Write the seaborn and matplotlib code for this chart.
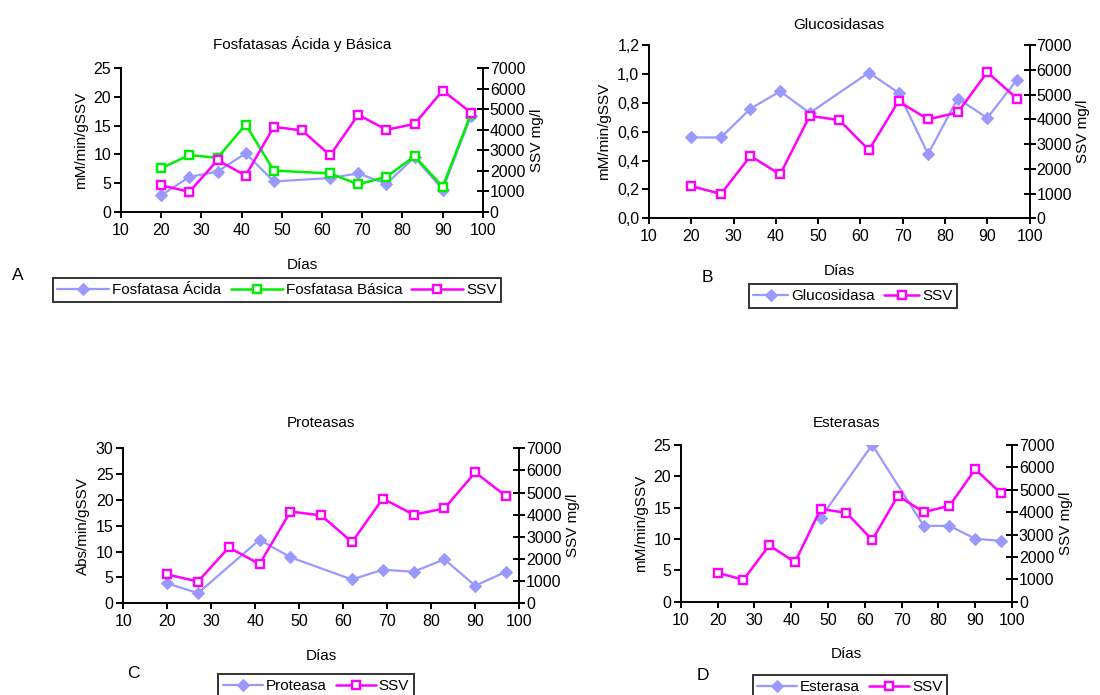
import matplotlib
matplotlib.use("Agg")
import matplotlib.pyplot as plt
import seaborn as sns
import numpy as np
from matplotlib.ticker import FuncFormatter

sns.set_style("white")
plt.rcParams['font.family'] = ['Liberation Sans', 'DejaVu Sans']
plt.rcParams['text.color'] = 'black'
plt.rcParams['axes.labelcolor'] = 'black'
plt.rcParams['xtick.color'] = 'black'
plt.rcParams['ytick.color'] = 'black'

# ---- data ----
dias = [20, 27, 34, 41, 48, 55, 62, 69, 76, 83, 90, 97]
ssv = [1300, 980, 2520, 1770, 4140, 3970, 2760, 4730, 4000, 4280, 5910, 4840]

dias_fos = [20, 27, 34, 41, 48, 62, 69, 76, 83, 90, 97]
fos_acida = [2.9, 6.1, 7.0, 10.2, 5.3, 5.9, 6.7, 4.9, 9.5, 3.9, 16.6]
fos_basica = [7.6, 9.9, 9.4, 15.2, 7.2, 6.7, 4.8, 6.1, 9.7, 4.4, 17.0]

dias_glu = [20, 27, 34, 41, 48, 62, 69, 76, 83, 90, 97]
glucosidasa = [0.56, 0.56, 0.76, 0.88, 0.73, 1.01, 0.87, 0.445, 0.83, 0.695, 0.96]

dias_pro = [20, 27, 41, 48, 62, 69, 76, 83, 90, 97]
proteasa = [3.85, 1.95, 12.3, 8.9, 4.6, 6.5, 6.1, 8.5, 3.4, 6.1]

dias_est = [48, 62, 76, 83, 90, 97]
esterasa = [13.4, 25.0, 12.1, 12.1, 10.05, 9.7]

LAV = '#9999FF'
GRN = '#00EE00'
MAG = '#FF00FF'
FS = 11.5
LFS = 11

fig = plt.figure(figsize=(11, 6.95), dpi=100)


def style_axes(ax, ax2, ylim, yticks, fmt=None):
    ax.set_xlim(10, 100)
    ax.set_xticks(range(10, 101, 10))
    ax.set_ylim(*ylim)
    ax.set_yticks(yticks)
    if fmt:
        ax.yaxis.set_major_formatter(FuncFormatter(fmt))
    ax2.set_ylim(0, 7000)
    ax2.set_yticks(range(0, 7001, 1000))
    for a in (ax, ax2):
        for s in a.spines.values():
            s.set_color('black')
            s.set_linewidth(1.4)
        a.spines['top'].set_visible(False)
    ax.spines['right'].set_visible(False)
    ax2.spines['left'].set_visible(False)
    ax2.spines['bottom'].set_visible(False)
    ax.tick_params(axis='y', direction='out', length=5, width=1.4, labelsize=FS, left=True, pad=2)
    ax.tick_params(axis='x', direction='out', length=4, width=1.4, labelsize=FS, bottom=True, pad=4)
    ax2.tick_params(axis='y', direction='inout', length=8, width=1.4, labelsize=FS, right=True, pad=1)
    ax.set_xlabel('Días', fontsize=LFS, labelpad=14)
    ax2.set_ylabel('SSV mg/l', fontsize=LFS, labelpad=3)
    ax.grid(False)
    ax2.grid(False)


def lav_line(ax, x, y, label):
    sns.lineplot(x=x, y=y, ax=ax, color=LAV, marker='D', markersize=6.5,
                 markeredgecolor=LAV, linewidth=1.6, label=label, legend=False)


def sq_line(ax, x, y, color, label):
    sns.lineplot(x=x, y=y, ax=ax, color=color, marker='s', markersize=5.5,
                 markerfacecolor='white', markeredgecolor=color, markeredgewidth=1.7,
                 linewidth=1.8, label=label, legend=False)


def make_legend(handles, labels, center, hl):
    leg = fig.legend(handles, labels, loc='center', bbox_to_anchor=center,
                     bbox_transform=fig.transFigure, ncol=len(labels), fontsize=LFS,
                     frameon=True, fancybox=False, edgecolor='black', handlelength=hl,
                     handletextpad=0.2, columnspacing=0.6, borderpad=0.3, borderaxespad=0)
    leg.get_frame().set_linewidth(1.4)
    return leg


comma = lambda v, p: f"{v:.1f}".replace('.', ',')

# ---- Panel A ----
axA = fig.add_axes([0.110, 0.695, 0.329, 0.207])
axA2 = axA.twinx()
lav_line(axA, dias_fos, fos_acida, 'Fosfatasa Ácida')
sq_line(axA, dias_fos, fos_basica, GRN, 'Fosfatasa Básica')
sq_line(axA2, dias, ssv, MAG, 'SSV')
style_axes(axA, axA2, (0, 25), range(0, 26, 5))
axA.set_ylabel('mM/min/gSSV', fontsize=LFS, labelpad=4)
axA.set_title('Fosfatasas Ácida y Básica', fontsize=LFS, pad=14)
h = axA.get_lines()[:2] + axA2.get_lines()[:1]
make_legend(h, ['Fosfatasa Ácida', 'Fosfatasa Básica', 'SSV'],
            (277 / 1100, 1 - 290 / 695), 3.4)
fig.text(18 / 1100, 1 - 275 / 695, 'A', fontsize=12.5, ha='center', va='center')

# ---- Panel B ----
axB = fig.add_axes([0.590, 0.686, 0.346, 0.249])
axB2 = axB.twinx()
lav_line(axB, dias_glu, glucosidasa, 'Glucosidasa')
sq_line(axB2, dias, ssv, MAG, 'SSV')
style_axes(axB, axB2, (0, 1.2), np.arange(0, 1.21, 0.2), comma)
axB.set_ylabel('mM/min/gSSV', fontsize=LFS, labelpad=4)
axB.set_title('Glucosidasas', fontsize=LFS, pad=12)
make_legend(axB.get_lines()[:1] + axB2.get_lines()[:1], ['Glucosidasa', 'SSV'],
            (853 / 1100, 1 - 296 / 695), 2.3)
fig.text(707 / 1100, 1 - 277 / 695, 'B', fontsize=12.5, ha='center', va='center')

# ---- Panel C ----
axC = fig.add_axes([0.112, 0.132, 0.360, 0.223])
axC2 = axC.twinx()
lav_line(axC, dias_pro, proteasa, 'Proteasa')
sq_line(axC2, dias, ssv, MAG, 'SSV')
style_axes(axC, axC2, (0, 30), range(0, 31, 5))
axC.set_ylabel('Abs/min/gSSV', fontsize=LFS, labelpad=4)
axC.set_title('Proteasas', fontsize=LFS, pad=15)
make_legend(axC.get_lines()[:1] + axC2.get_lines()[:1], ['Proteasa', 'SSV'],
            (316 / 1100, 1 - 686 / 695), 2.6)
fig.text(133 / 1100, 1 - 673 / 695, 'C', fontsize=12.5, ha='center', va='center')

# ---- Panel D ----
axD = fig.add_axes([0.619, 0.134, 0.301, 0.226])
axD2 = axD.twinx()
lav_line(axD, dias_est, esterasa, 'Esterasa')
sq_line(axD2, dias, ssv, MAG, 'SSV')
style_axes(axD, axD2, (0, 25), range(0, 26, 5))
axD.set_ylabel('mM/min/gSSV', fontsize=LFS, labelpad=4)
axD.set_title('Esterasas', fontsize=LFS, pad=13)
make_legend(axD.get_lines()[:1] + axD2.get_lines()[:1], ['Esterasa', 'SSV'],
            (850 / 1100, 1 - 687 / 695), 2.6)
fig.text(703 / 1100, 1 - 675 / 695, 'D', fontsize=12.5, ha='center', va='center')

fig.savefig('out.png', dpi=100, facecolor='white')
